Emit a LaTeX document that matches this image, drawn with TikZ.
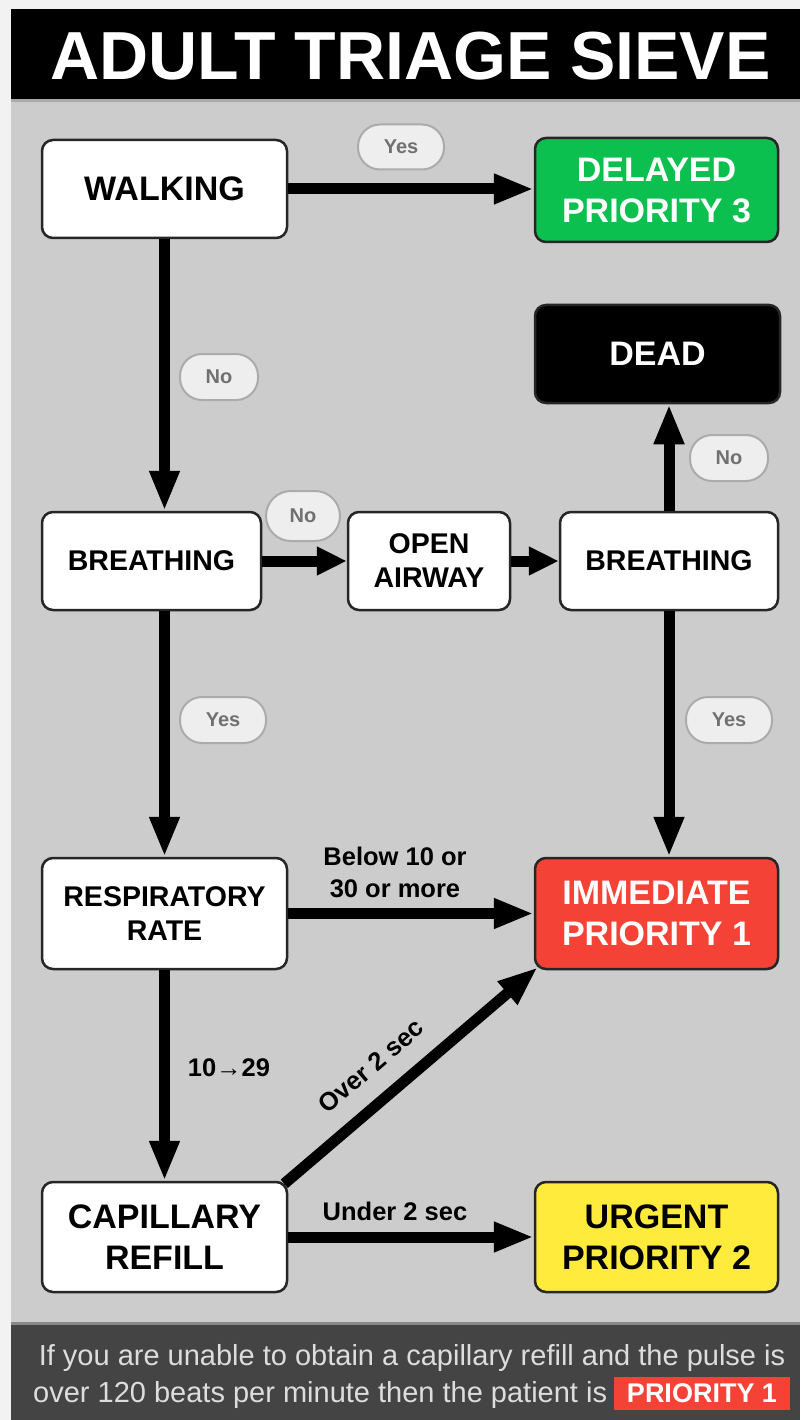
\documentclass[tikz,border=0pt]{standalone}
\usepackage{fontspec}
\setmainfont{Liberation Sans}
\usetikzlibrary{arrows.meta}
\definecolor{outerbg}{HTML}{F2F2F2}
\definecolor{bodybg}{HTML}{CCCCCC}
\definecolor{footbg}{HTML}{444444}
\definecolor{seprule}{HTML}{ABABAB}
\definecolor{greenbox}{HTML}{0BC04E}
\definecolor{redbox}{HTML}{F44336}
\definecolor{yellowbox}{HTML}{FFEB3B}
\definecolor{pillfill}{HTML}{EEEEEE}
\definecolor{pilldraw}{HTML}{ABABAB}
\definecolor{pilltext}{HTML}{707070}
\definecolor{foottext}{HTML}{DDDDDD}
\begin{document}
\begin{tikzpicture}[x=1pt,y=-1pt,
  box/.style={draw=black!85, line width=2.5pt, rounded corners=11pt, inner sep=0pt, align=center, fill=white, font=\bfseries\fontsize{34}{41}\selectfont},
  smallbox/.style={box, font=\bfseries\fontsize{28.5}{34}\selectfont},
  pill/.style={draw=pilldraw, fill=pillfill, line width=2pt, rounded corners=22pt, minimum width=80pt, minimum height=46pt, inner sep=0pt, text=pilltext, font=\bfseries\fontsize{20}{24}\selectfont},
  flow/.style={line width=11pt, -{Triangle[length=40pt,width=28pt]}},
  shortflow/.style={line width=11pt, -{Triangle[length=30pt,width=27pt]}},
  elabel/.style={font=\bfseries\fontsize{25.5}{32}\selectfont, align=center, inner sep=0pt},
  foot/.style={font=\fontsize{29}{35}\selectfont, text=foottext, inner sep=0pt},
]
\useasboundingbox (0,0) rectangle (800,1420);
\fill[outerbg] (0,0) rectangle (800,1420);
\fill[black] (11,9) rectangle (800,99);
\fill[seprule] (11,99) rectangle (800,102);
\fill[bodybg] (11,102) rectangle (800,1322);
\fill[seprule!80!black] (11,1322) rectangle (800,1325);
\fill[footbg] (11,1325) rectangle (800,1420);

\node[text=white, font=\bfseries\fontsize{68}{80}\selectfont, anchor=base, inner sep=0pt] (title) at (410.5,80) {ADULT TRIAGE SIEVE};

\node[box, minimum width=245pt, minimum height=98pt] (walk) at (164.5,189) {WALKING};
\node[box, fill=greenbox, text=white, minimum width=243pt, minimum height=104pt] (delayed) at (656.5,190) {DELAYED\\PRIORITY 3};
\node[box, fill=black, text=white, minimum width=245pt, minimum height=98pt] (dead) at (657.5,354) {DEAD};
\node[smallbox, minimum width=219pt, minimum height=98pt] (breathA) at (151.5,561) {BREATHING};
\node[smallbox, minimum width=162pt, minimum height=98pt] (airway) at (429,561) {OPEN\\AIRWAY};
\node[smallbox, minimum width=218pt, minimum height=98pt] (breathB) at (669,561) {BREATHING};
\node[smallbox, minimum width=245pt, minimum height=111pt] (resp) at (164.5,913.5) {RESPIRATORY\\RATE};
\node[box, fill=redbox, text=white, minimum width=243pt, minimum height=111pt] (immediate) at (656.5,913.5) {IMMEDIATE\\PRIORITY 1};
\node[box, minimum width=245pt, minimum height=110pt] (cap) at (164.5,1237) {CAPILLARY\\REFILL};
\node[box, fill=yellowbox, minimum width=243pt, minimum height=110pt] (urgent) at (656.5,1237) {URGENT\\PRIORITY 2};

\draw[flow] (walk.east) -- (walk.east -| delayed.west);
\draw[flow] (walk.south) -- (walk.south |- breathA.north);
\draw[shortflow] (breathA.east) -- (airway.west);
\draw[shortflow] (airway.east) -- (breathB.west);
\draw[flow] (breathB.north) -- (breathB.north |- dead.south);
\draw[flow] (breathB.south) -- (breathB.south |- immediate.north);
\draw[flow] (breathA.south -| resp.north) -- (resp.north);
\draw[flow] (resp.east) -- (immediate.west);
\draw[flow] (resp.south) -- (cap.north);
\draw[flow] ([shift={(-4,3)}]cap.north east) -- ([shift={(4,-3)}]immediate.south west);
\draw[flow] (cap.east) -- (urgent.west);

\node[pill, minimum width=86pt, minimum height=45pt] (yesA) at (401,147) {Yes};
\node[pill, minimum width=78pt] (noA) at (219,377) {No};
\node[pill, minimum width=74pt, minimum height=50pt, rounded corners=25pt] (noB) at (303,516) {No};
\node[pill, minimum width=86pt] (yesB) at (223,720) {Yes};
\node[pill, minimum width=78pt] (noC) at (729,458) {No};
\node[pill, minimum width=86pt] (yesC) at (729,720) {Yes};

\node[elabel] (below) at (395,872) {Below 10 or\\30 or more};
\node[elabel] (range) at (229,1068) {10→29};
\node[elabel, rotate=40.6] (over) at (371,1066) {Over 2 sec};
\node[elabel] (under) at (395,1211) {Under 2 sec};

\node[foot, anchor=base] (footA) at (412,1365) {If you are unable to obtain a capillary refill and the pulse is};
\node[foot, anchor=base west] (footB) at (33,1402) {over 120 beats per minute then the patient is};
\node[fill=redbox, text=white, font=\bfseries\fontsize{27}{32}\selectfont, minimum width=176pt, minimum height=33pt, inner sep=0pt] (prio) at (702,1393) {PRIORITY 1};
\end{tikzpicture}
\end{document}
